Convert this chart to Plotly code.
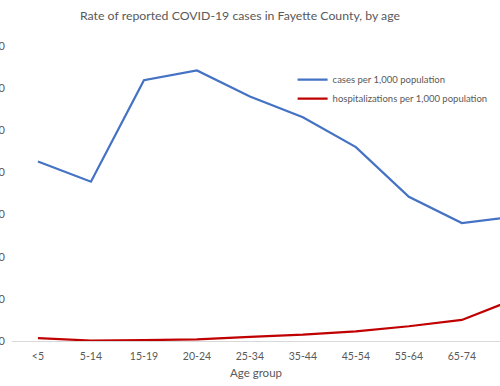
import plotly.graph_objects as go

age_groups = ["<5", "5-14", "15-19", "20-24", "25-34", "35-44", "45-54", "55-64", "65-74", "75+"]
cases_per_1000 = [42.6, 37.8, 61.9, 64.2, 58.0, 53.1, 46.0, 34.2, 28.0, 29.5]
hosp_per_1000 = [0.7, 0.1, 0.2, 0.4, 1.0, 1.5, 2.3, 3.5, 5.0, 9.9]
y_ticks = [0, 10, 20, 30, 40, 50, 60, 70]

fig = go.Figure()
fig.add_trace(go.Scatter(x=list(range(len(age_groups))), y=cases_per_1000, mode="lines",
                         name="cases per 1,000 population",
                         line=dict(color="#4472C4", width=2.25)))
fig.add_trace(go.Scatter(x=list(range(len(age_groups))), y=hosp_per_1000, mode="lines",
                         name="hospitalizations per 1,000 population",
                         line=dict(color="#C00000", width=2.25)))

font_family = "Lato, 'Open Sans', sans-serif"
fig.update_layout(
    width=500, height=386,
    margin=dict(l=12, r=0, t=46, b=45, autoexpand=False),
    paper_bgcolor="white", plot_bgcolor="white",
    font=dict(family=font_family, color="#595959", size=11),
    title=dict(text="Rate of reported COVID-19 cases in Fayette County, by age",
               x=0.48, xanchor="center", y=0.96, yanchor="middle",
               font=dict(size=12.3, color="#595959", family=font_family)),
    showlegend=True,
    legend=dict(x=0.575, y=0.935, xanchor="left", yanchor="top",
                bgcolor="rgba(0,0,0,0)", font=dict(size=9.5, color="#595959"),
                itemwidth=30, tracegroupgap=0),
    xaxis=dict(tickmode="array", tickvals=list(range(len(age_groups))), ticktext=age_groups,
               range=[-0.49, 8.72], showgrid=False, zeroline=False, automargin=False,
               showline=True, linecolor="#D9D9D9", linewidth=1,
               ticks="", ticklabelstandoff=5, tickfont=dict(size=10.5, color="#595959"),
               title=dict(text="Age group", font=dict(size=11.5, color="#595959"), standoff=8)),
    yaxis=dict(range=[0, 70], tickvals=y_ticks, showgrid=False, zeroline=False, automargin=False,
               showline=False, ticks="", ticklabelstandoff=6,
               tickfont=dict(size=11, color="#595959")),
)

fig.write_html("out.html", config={"displayModeBar": False},
               post_script="document.body.style.margin='0';")
